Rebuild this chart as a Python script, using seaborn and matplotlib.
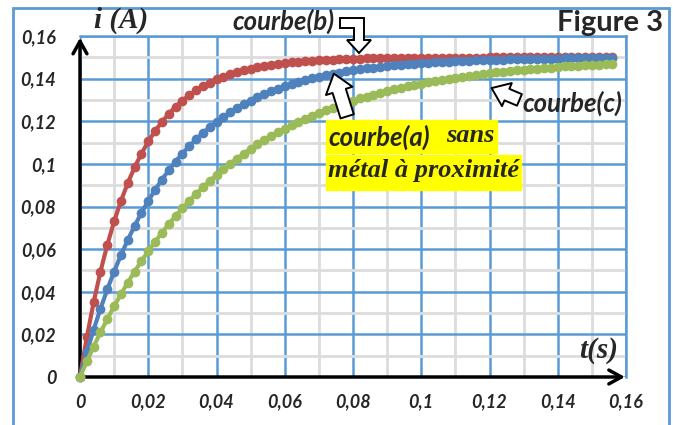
import matplotlib
matplotlib.use("Agg")
import matplotlib.pyplot as plt
from matplotlib.patches import Rectangle, FancyArrowPatch, Polygon
import pandas as pd
import seaborn as sns

# time samples (s)
t = [0.000, 0.002, 0.004, 0.006, 0.008, 0.010, 0.012, 0.014, 0.016, 0.018,
     0.020, 0.022, 0.024, 0.026, 0.028, 0.030, 0.032, 0.034, 0.036, 0.038,
     0.040, 0.042, 0.044, 0.046, 0.048, 0.050, 0.052, 0.054, 0.056, 0.058,
     0.060, 0.062, 0.064, 0.066, 0.068, 0.070, 0.072, 0.074, 0.076, 0.078,
     0.080, 0.082, 0.084, 0.086, 0.088, 0.090, 0.092, 0.094, 0.096, 0.098,
     0.100, 0.102, 0.104, 0.106, 0.108, 0.110, 0.112, 0.114, 0.116, 0.118,
     0.120, 0.122, 0.124, 0.126, 0.128, 0.130, 0.132, 0.134, 0.136, 0.138,
     0.140, 0.142, 0.144, 0.146, 0.148, 0.150, 0.152, 0.154, 0.156]

# courbe(b) - red
i_b = [0.0000, 0.0187, 0.0351, 0.0495, 0.0620, 0.0730, 0.0826, 0.0910, 0.0984, 0.1048,
       0.1105, 0.1154, 0.1197, 0.1235, 0.1268, 0.1297, 0.1322, 0.1345, 0.1364, 0.1381,
       0.1396, 0.1409, 0.1420, 0.1430, 0.1439, 0.1446, 0.1453, 0.1459, 0.1464, 0.1469,
       0.1473, 0.1476, 0.1479, 0.1482, 0.1484, 0.1486, 0.1488, 0.1489, 0.1491, 0.1492,
       0.1493, 0.1494, 0.1495, 0.1495, 0.1496, 0.1496, 0.1497, 0.1497, 0.1497, 0.1498,
       0.1498, 0.1498, 0.1498, 0.1499, 0.1499, 0.1499, 0.1499, 0.1499, 0.1499, 0.1499,
       0.1500, 0.1500, 0.1500, 0.1500, 0.1500, 0.1500, 0.1500, 0.1500, 0.1500, 0.1500,
       0.1500, 0.1500, 0.1500, 0.1500, 0.1500, 0.1500, 0.1500, 0.1500, 0.1500]

# courbe(a) - blue, sans metal
i_a = [0.0000, 0.0115, 0.0222, 0.0320, 0.0411, 0.0495, 0.0572, 0.0643, 0.0709, 0.0770,
       0.0826, 0.0878, 0.0926, 0.0970, 0.1011, 0.1048, 0.1083, 0.1115, 0.1145, 0.1172,
       0.1197, 0.1220, 0.1242, 0.1262, 0.1280, 0.1297, 0.1313, 0.1327, 0.1340, 0.1353,
       0.1364, 0.1374, 0.1384, 0.1393, 0.1401, 0.1409, 0.1416, 0.1422, 0.1428, 0.1434,
       0.1439, 0.1444, 0.1448, 0.1452, 0.1456, 0.1459, 0.1462, 0.1465, 0.1468, 0.1470,
       0.1473, 0.1475, 0.1477, 0.1478, 0.1480, 0.1482, 0.1483, 0.1484, 0.1486, 0.1487,
       0.1488, 0.1489, 0.1489, 0.1490, 0.1491, 0.1492, 0.1492, 0.1493, 0.1493, 0.1494,
       0.1494, 0.1495, 0.1495, 0.1496, 0.1496, 0.1496, 0.1497, 0.1497, 0.1497]

# courbe(c) - green
i_c = [0.0000, 0.0073, 0.0143, 0.0209, 0.0272, 0.0332, 0.0389, 0.0443, 0.0495, 0.0544,
       0.0590, 0.0635, 0.0677, 0.0717, 0.0755, 0.0791, 0.0826, 0.0859, 0.0890, 0.0920,
       0.0948, 0.0975, 0.1001, 0.1025, 0.1048, 0.1070, 0.1091, 0.1111, 0.1130, 0.1148,
       0.1165, 0.1182, 0.1197, 0.1212, 0.1226, 0.1239, 0.1252, 0.1264, 0.1276, 0.1287,
       0.1297, 0.1307, 0.1316, 0.1325, 0.1334, 0.1342, 0.1350, 0.1357, 0.1364, 0.1371,
       0.1377, 0.1383, 0.1389, 0.1394, 0.1399, 0.1404, 0.1409, 0.1413, 0.1417, 0.1421,
       0.1425, 0.1429, 0.1432, 0.1436, 0.1439, 0.1442, 0.1445, 0.1447, 0.1450, 0.1452,
       0.1455, 0.1457, 0.1459, 0.1461, 0.1463, 0.1465, 0.1466, 0.1468, 0.1470]

ticks = [0, 0.02, 0.04, 0.06, 0.08, 0.10, 0.12, 0.14, 0.16]
tick_labels = ["0", "0,02", "0,04", "0,06", "0,08", "0,1", "0,12", "0,14", "0,16"]
minor_ticks = [0.01, 0.03, 0.05, 0.07, 0.09, 0.11, 0.13, 0.15]

W, H = 673, 425


def fx(px):
    return px / W


def fy(py):
    return 1 - py / H


sns.set_style("white")
plt.rcParams["font.family"] = ["Lato", "DejaVu Sans"]

df = pd.concat([
    pd.DataFrame({"t": t, "i": i_b, "courbe": "b"}),
    pd.DataFrame({"t": t, "i": i_a, "courbe": "a"}),
    pd.DataFrame({"t": t, "i": i_c, "courbe": "c"}),
])
palette = {"b": "#C0504D", "a": "#4F81BD", "c": "#9BBB59"}

fig = plt.figure(figsize=(6.73, 4.25), dpi=100)
ax = fig.add_axes([fx(80), fy(377), fx(626) - fx(80), fy(36) - fy(377)])

# outer frame
fig.patches.append(Rectangle((fx(13), fy(428)), fx(669) - fx(13), fy(8) - fy(428),
                             transform=fig.transFigure, fill=False,
                             edgecolor="#5B9BD5", lw=2))

sns.lineplot(data=df, x="t", y="i", hue="courbe", palette=palette, marker="o",
             markersize=7, markeredgewidth=0, linewidth=3, legend=False,
             sort=False, ax=ax, zorder=5, clip_on=False)

ax.set_xlim(0, 0.16)
ax.set_ylim(0, 0.16)
ax.set_xticks(ticks)
ax.set_yticks(ticks)
ax.set_xticks(minor_ticks, minor=True)
ax.set_yticks(minor_ticks, minor=True)
ax.set_xticklabels(tick_labels, fontsize=13, fontweight="bold", style="italic")
ax.set_yticklabels(tick_labels, fontsize=13, fontweight="bold", style="italic")
ax.tick_params(which="both", length=0)
ax.tick_params(axis="x", pad=12)
ax.tick_params(axis="y", pad=17)
ax.grid(which="minor", color="#DCDCDC", lw=2, zorder=0)
ax.grid(which="major", color="#5B9BD5", lw=1.8, zorder=1)
ax.set_axisbelow(True)
ax.set_xlabel("")
ax.set_ylabel("")
for s in ["left", "bottom"]:
    ax.spines[s].set_visible(False)
for s in ["top", "right"]:
    ax.spines[s].set_color("#5B9BD5")
    ax.spines[s].set_linewidth(1.8)

# axis arrows
ax.annotate("", xy=(0.1605, 0), xytext=(0, 0), xycoords="data",
            arrowprops=dict(arrowstyle="->,head_length=0.9,head_width=0.5",
                            color="black", lw=2.5), annotation_clip=False, zorder=4)
ax.annotate("", xy=(0, 0.1605), xytext=(0, 0), xycoords="data",
            arrowprops=dict(arrowstyle="->,head_length=0.9,head_width=0.5",
                            color="black", lw=2.5), annotation_clip=False, zorder=4)

serif = ["Liberation Serif", "DejaVu Serif"]
fig.text(fx(94), fy(20), "i (A)", family=serif, fontsize=21, fontweight="bold",
         style="italic", va="center", ha="left")
fig.text(fx(579), fy(350), "t(s)", family=serif, fontsize=21, fontweight="bold",
         style="italic", va="center", ha="left")
fig.text(fx(663), fy(23), "Figure 3", fontsize=21, fontweight="bold",
         va="center", ha="right")
fig.text(fx(232), fy(21), "courbe(b)", fontsize=18.5, fontweight="bold",
         style="italic", va="center", ha="left", zorder=6)
fig.text(fx(522), fy(103), "courbe(c)", fontsize=18.5, fontweight="bold",
         style="italic", va="center", ha="left", zorder=6)

# yellow highlighted label for courbe(a)
fig.patches.append(Rectangle((fx(326), fy(153)), fx(497) - fx(326), fy(120) - fy(153),
                             transform=fig.transFigure, color="#FFFF00", zorder=6))
fig.patches.append(Rectangle((fx(326), fy(190)), fx(521) - fx(326), fy(155) - fy(190),
                             transform=fig.transFigure, color="#FFFF00", zorder=6))
fig.text(fx(328), fy(137), "courbe(a)", fontsize=18.5, fontweight="bold",
         style="italic", va="center", ha="left", zorder=7)
fig.text(fx(446), fy(135), "sans", family=serif, fontsize=19, fontweight="bold",
         style="italic", va="center", ha="left", zorder=7)
fig.text(fx(328), fy(171), "métal à proximité", family=serif, fontsize=19,
         fontweight="bold", style="italic", va="center", ha="left", zorder=7)

# block arrows
bent = [(340, 18), (364, 18), (364, 40), (371, 40), (359, 53), (347, 40),
        (354, 40), (354, 28), (340, 28)]
fig.patches.append(Polygon([(fx(x), fy(y)) for x, y in bent], closed=True,
                           transform=fig.transFigure, facecolor="white",
                           edgecolor="black", lw=1.4, zorder=8))
arrow_kw = dict(transform=fig.transFigure, facecolor="white", edgecolor="black",
                lw=1.4, mutation_scale=20, zorder=8)
fig.patches.append(FancyArrowPatch((fx(348), fy(119)), (fx(333), fy(71)),
                                   arrowstyle="simple,head_length=0.65,head_width=1.0,tail_width=0.5",
                                   **arrow_kw))
fig.patches.append(FancyArrowPatch((fx(522), fy(101)), (fx(489), fy(87)),
                                   arrowstyle="simple,head_length=0.6,head_width=0.9,tail_width=0.45",
                                   **arrow_kw))

fig.savefig("out.png", dpi=100)
